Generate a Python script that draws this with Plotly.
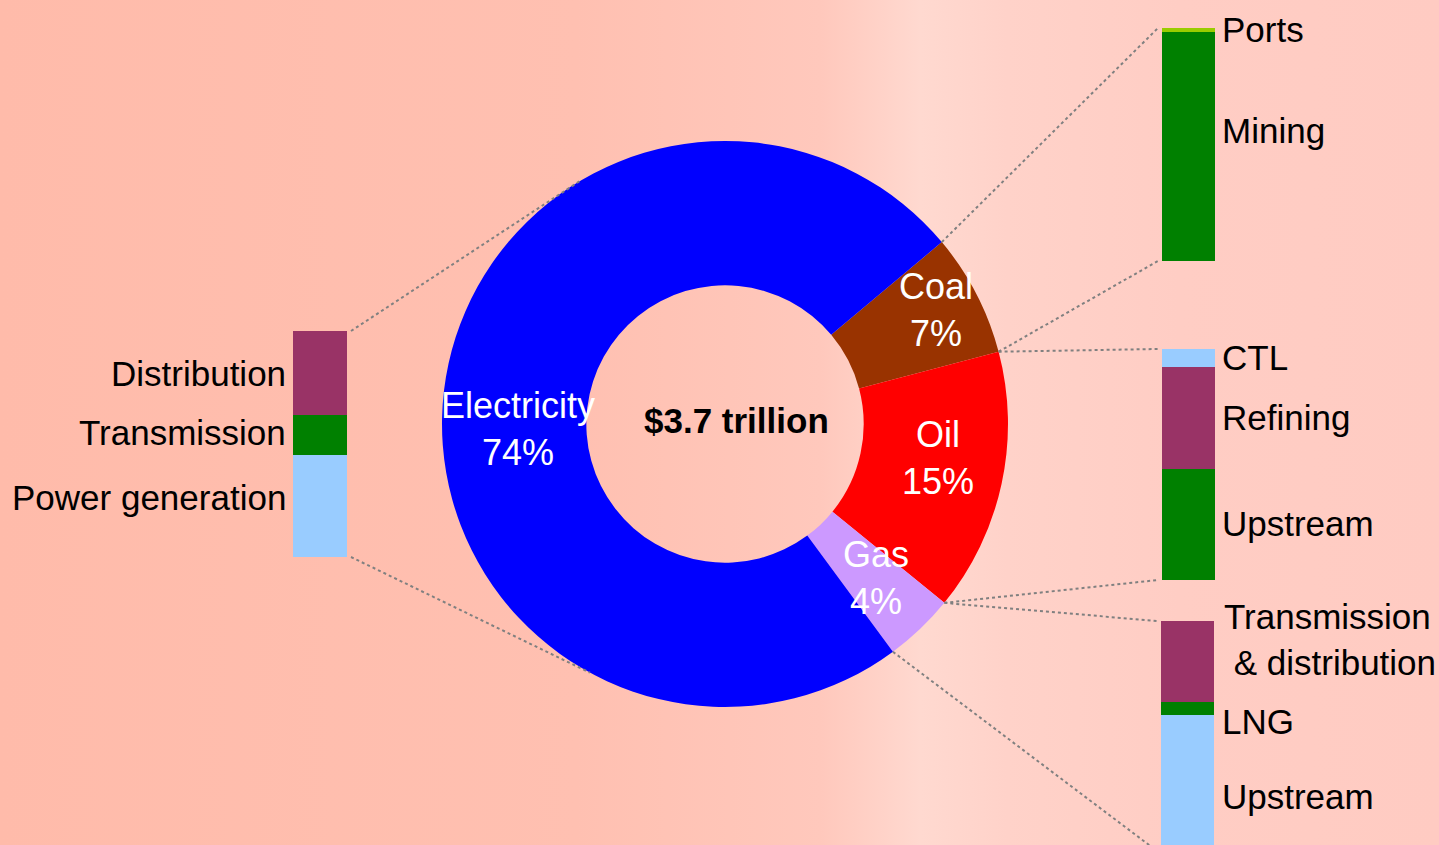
import math
import base64
import plotly.graph_objects as go

# ---------------- data ----------------
sectors = ["Coal", "Oil", "Gas", "Electricity"]
shares = [7, 15, 4, 74]
total_label = "$3.7 trillion"

elec_parts = ["Power generation", "Transmission", "Distribution"]
elec_vals = [45, 18, 37]
coal_parts = ["Mining", "Ports"]
coal_vals = [98.3, 1.7]
oil_parts = ["Upstream", "Refining", "CTL"]
oil_vals = [48, 44, 8]
gas_parts = ["Upstream", "LNG", "Transmission<br> & distribution"]
gas_vals = [59, 6, 35]

# ---------------- styles / layout constants ----------------
W, H = 1439, 845
FONT = "Liberation Sans, Arial, sans-serif"
SIDE_SIZE = 35
PIE_SIZE = 36
CENTER_SIZE = 35
sector_colors = ["#993300", "#FF0000", "#CC99FF", "#0000FF"]
elec_colors = ["#99CCFF", "#008000", "#993366"]
coal_colors = ["#008000", "#99CC00"]
oil_colors = ["#008000", "#993366", "#99CCFF"]
gas_colors = ["#99CCFF", "#008000", "#993366"]

CX, CY, R, HOLE = 725, 424, 283, 0.49
ROTATION = 50  # degrees clockwise from 12 o'clock

# bar boxes in pixels: (x0, x1, y_top, y_bottom)
BOX_ELEC = (293, 347, 331, 557)
BOX_COAL = (1162, 1215, 28, 261)
BOX_OIL = (1162, 1215, 349, 580)
BOX_GAS = (1161, 1214, 621, 851)


def px(x):
    return x / W


def py(y):
    return 1 - y / H


fig = go.Figure()

fig.add_trace(go.Pie(
    labels=sectors, values=shares, sort=False, direction="clockwise",
    rotation=ROTATION, hole=HOLE, textinfo="none", hoverinfo="label+percent",
    marker=dict(colors=sector_colors, line=dict(width=0)),
    domain=dict(x=[px(CX - R), px(CX + R)], y=[py(CY + R), py(CY - R)]),
    showlegend=False,
))

bars = [
    (elec_parts, elec_vals, elec_colors, BOX_ELEC),
    (coal_parts, coal_vals, coal_colors, BOX_COAL),
    (oil_parts, oil_vals, oil_colors, BOX_OIL),
    (gas_parts, gas_vals, gas_colors, BOX_GAS),
]

layout_axes = {}
for i, (parts, vals, cols, box) in enumerate(bars):
    n = i + 2
    x0, x1, yt, yb = box
    total = sum(vals)
    # clip bars that run past the bottom edge of the page
    vis_bottom = min(yb, H)
    lo = total * (yb - vis_bottom) / (yb - yt)
    for p, v, c in zip(parts, vals, cols):
        fig.add_trace(go.Bar(
            x=[0], y=[v], name=p.replace("<br>", ""), marker=dict(color=c, line=dict(width=0)),
            width=1, xaxis=f"x{n}", yaxis=f"y{n}", showlegend=False,
            hovertemplate=p.replace("<br>", "") + ": %{y}%<extra></extra>",
        ))
    layout_axes[f"xaxis{n}"] = dict(domain=[px(x0), px(x1)], range=[-0.5, 0.5], visible=False,
                                    anchor=f"y{n}", fixedrange=True)
    layout_axes[f"yaxis{n}"] = dict(domain=[py(vis_bottom), py(yt)], range=[lo, total], visible=False,
                                    anchor=f"x{n}", fixedrange=True)

fig.update_layout(barmode="stack", **layout_axes)

# ---------------- connectors ----------------
def edge_point(angle_deg):
    a = math.radians(angle_deg)
    return CX + R * math.cos(a), CY - R * math.sin(a)


start = 90 - ROTATION
bounds = [start]
cum = 0
for s in shares:
    cum += s
    bounds.append(start - 360 * cum / sum(shares))
# bounds: coal/elec, coal/oil, oil/gas, gas/elec

GAP = 4
lines = [
    (edge_point(bounds[0]), (BOX_COAL[0] - GAP, BOX_COAL[2])),
    (edge_point(bounds[1]), (BOX_COAL[0] - GAP, BOX_COAL[3])),
    (edge_point(bounds[1]), (BOX_OIL[0] - GAP, BOX_OIL[2])),
    (edge_point(bounds[2]), (BOX_OIL[0] - GAP, BOX_OIL[3])),
    (edge_point(bounds[2]), (BOX_GAS[0] - GAP, BOX_GAS[2])),
    (edge_point(bounds[3]), (BOX_GAS[0] - GAP, BOX_GAS[3])),
    ((BOX_ELEC[1] + GAP, BOX_ELEC[2]), edge_point(121)),
    ((BOX_ELEC[1] + GAP, BOX_ELEC[3]), edge_point(-118.5)),
]
shapes = []
for (ax, ay), (bx, by) in lines:
    shapes.append(dict(type="line", xref="paper", yref="paper",
                       x0=px(ax), y0=py(ay), x1=px(bx), y1=py(by),
                       line=dict(color="#808080", width=2, dash="dot"), layer="above"))

# ---------------- text ----------------
annotations = []
pie_label_pos = {"Coal": (936, 310), "Oil": (938, 458), "Gas": (876, 578), "Electricity": (518, 429)}
for s, v in zip(sectors, shares):
    x, y = pie_label_pos[s]
    annotations.append(dict(x=px(x), y=py(y), xref="paper", yref="paper", text=f"{s}<br>{v}%",
                            showarrow=False, font=dict(family=FONT, size=PIE_SIZE, color="white"),
                            xanchor="center", yanchor="middle", align="center"))

annotations.append(dict(x=px(736), y=py(420), xref="paper", yref="paper", text=f"<b>{total_label}</b>",
                        showarrow=False, font=dict(family=FONT, size=CENTER_SIZE, color="black"),
                        xanchor="center", yanchor="middle"))

right_labels = [
    ("Ports", 30, 1220), ("Mining", 130, 1220),
    ("CTL", 357, 1220), ("Refining", 417, 1220), ("Upstream", 523, 1220),
    (gas_parts[2], 639, 1222), ("LNG", 721, 1220), ("Upstream", 796, 1220),
]
for t, y, x in right_labels:
    annotations.append(dict(x=px(x), y=py(y), xref="paper", yref="paper", text=t, showarrow=False,
                            font=dict(family=FONT, size=SIDE_SIZE, color="black"),
                            xanchor="left", yanchor="middle", align="left"))

left_labels = [("Distribution", 373), ("Transmission", 432), ("Power generation", 497)]
for t, y in left_labels:
    annotations.append(dict(x=px(288), y=py(y), xref="paper", yref="paper", text=t, showarrow=False,
                            font=dict(family=FONT, size=SIDE_SIZE, color="black"),
                            xanchor="right", yanchor="middle", align="right"))

# ---------------- background ----------------
svg = (
    f'<svg xmlns="http://www.w3.org/2000/svg" width="{W}" height="{H}" preserveAspectRatio="none">'
    '<defs><linearGradient id="g" x1="0" y1="0" x2="1" y2="0">'
    '<stop offset="0" stop-color="#FFBBAA"/>'
    '<stop offset="0.40" stop-color="#FFC0B1"/>'
    '<stop offset="0.57" stop-color="#FFC8BC"/>'
    '<stop offset="0.64" stop-color="#FFD9D0"/>'
    '<stop offset="0.70" stop-color="#FFD2C9"/>'
    '<stop offset="0.82" stop-color="#FFCDC4"/>'
    '<stop offset="1" stop-color="#FFCBC2"/>'
    '</linearGradient></defs><rect width="100%" height="100%" fill="url(#g)"/></svg>'
)
bg_src = "data:image/svg+xml;base64," + base64.b64encode(svg.encode()).decode()

fig.update_layout(
    width=W, height=H, margin=dict(l=0, r=0, t=0, b=0),
    paper_bgcolor="#FFC3B5", plot_bgcolor="rgba(0,0,0,0)",
    shapes=shapes, annotations=annotations, showlegend=False,
    images=[dict(source=bg_src, xref="paper", yref="paper", x=0, y=1, sizex=1, sizey=1,
                 sizing="stretch", layer="below", xanchor="left", yanchor="top")],
    font=dict(family=FONT),
)

fig.write_html("out.html", config=dict(displayModeBar=False),
               post_script="document.body.style.margin='0';document.body.style.overflow='hidden';")
